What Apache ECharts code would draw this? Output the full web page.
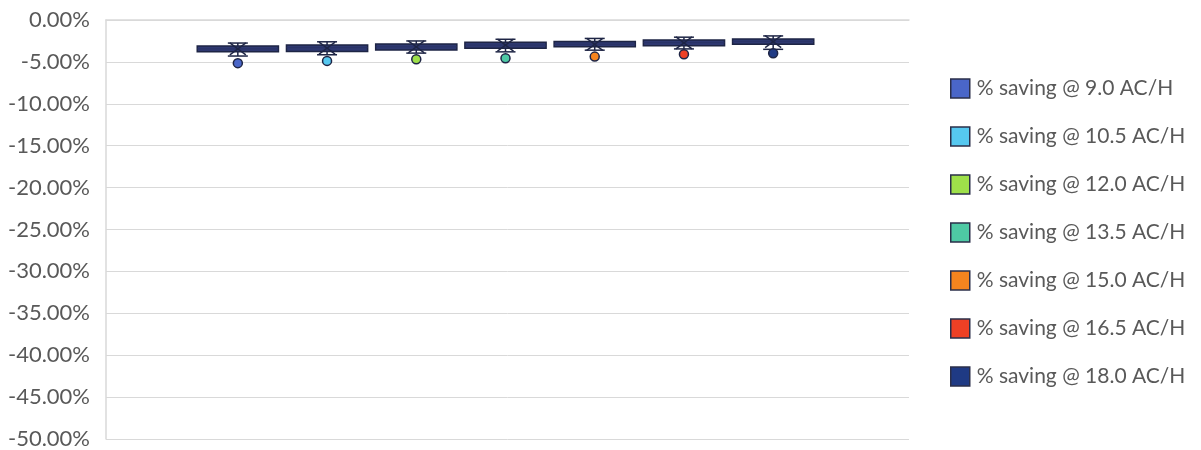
<!DOCTYPE html>
<html>
<head>
<meta charset="utf-8">
<script src="https://cdn.jsdelivr.net/npm/echarts@6/dist/echarts.min.js"></script>
<style>
html,body{margin:0;padding:0;background:#fff;}
#chart{width:1201px;height:450px;}
</style>
</head>
<body>
<div id="chart"></div>
<script>
// Series names and colours
const seriesNames = ['% saving @ 9.0 AC/H','% saving @ 10.5 AC/H','% saving @ 12.0 AC/H','% saving @ 13.5 AC/H','% saving @ 15.0 AC/H','% saving @ 16.5 AC/H','% saving @ 18.0 AC/H'];
const seriesColors = ['#4a66c8','#56c8f0','#9ee04a','#4ec9a4','#f5841f','#ee4025','#1f3a84'];
const categories = [''];
// box statistics in % (min, Q1, median, Q3, max, mean, outlier)
const whiskerMin = [-4.30,-4.15,-3.95,-3.80,-3.60,-3.45,-3.50];
const q1Values   = [-3.80,-3.75,-3.57,-3.37,-3.18,-3.06,-2.89];
const medians    = [-3.45,-3.30,-3.20,-3.00,-2.90,-2.70,-2.55];
const q3Values   = [-3.10,-2.98,-2.86,-2.65,-2.58,-2.38,-2.26];
const whiskerMax = [-2.75,-2.60,-2.50,-2.30,-2.20,-2.05,-1.90];
const means      = [-3.45,-3.35,-3.20,-3.00,-2.90,-2.72,-2.58];
const outliers   = [-5.15,-4.88,-4.68,-4.56,-4.37,-4.08,-3.96];
const yTicks = {min:-50, max:0, interval:5};

const dark = '#1e2545';
const chart = echarts.init(document.getElementById('chart'));

function makeRender(idx){
  return function(params, api){
    const cat = api.value(0);
    const band = api.size([1,0])[0];
    const slot = band/9;
    const cx = api.coord([cat,0])[0] + (idx-3)*slot - 2;
    const y = v => api.coord([cat,v])[1];
    const half = slot*0.455;
    const capHalf = 10;
    const vMin=api.value(1), vQ1=api.value(2), vMed=api.value(3), vQ3=api.value(4), vMax=api.value(5), vMean=api.value(6), vOut=api.value(7);
    const ls = {stroke:dark, lineWidth:1.5};
    const children = [
      {type:'line', shape:{x1:cx,y1:y(vMax),x2:cx,y2:y(vMin)}, style:ls},
      {type:'line', shape:{x1:cx-capHalf,y1:y(vMax),x2:cx+capHalf,y2:y(vMax)}, style:ls},
      {type:'line', shape:{x1:cx-capHalf,y1:y(vMin),x2:cx+capHalf,y2:y(vMin)}, style:ls},
      {type:'rect', shape:{x:cx-half,y:y(vQ3),width:2*half,height:y(vQ1)-y(vQ3)}, style:{fill:'#2e3870', stroke:dark, lineWidth:1.5}},
      {type:'line', shape:{x1:cx-half,y1:y(vMed),x2:cx+half,y2:y(vMed)}, style:{stroke:'#2a3366', lineWidth:1}},
      {type:'line', shape:{x1:cx-8,y1:y(vMean)-6,x2:cx+8,y2:y(vMean)+6}, style:ls},
      {type:'line', shape:{x1:cx-8,y1:y(vMean)+6,x2:cx+8,y2:y(vMean)-6}, style:ls},
      {type:'circle', shape:{cx:cx, cy:y(vOut), r:4.5}, style:{fill:seriesColors[idx], stroke:dark, lineWidth:1.5}}
    ];
    return {type:'group', children:children};
  };
}

const series = seriesNames.map((name,i)=>({
  type:'custom',
  name:name,
  renderItem: makeRender(i),
  itemStyle:{color:seriesColors[i], borderColor:dark},
  encode:{x:0, y:[1,2,3,4,5,6,7]},
  data:[[0, whiskerMin[i], q1Values[i], medians[i], q3Values[i], whiskerMax[i], means[i], outliers[i]]],
  silent:true
}));

chart.setOption({
  animation:false,
  backgroundColor:'#ffffff',
  grid:{left:106, right:292, top:20, bottom:10, containLabel:false},
  legend:{
    orient:'vertical',
    left:945, top:73,
    itemWidth:19, itemHeight:19, itemGap:27,
    icon:'rect',
    textStyle:{fontFamily:'Lato, "Open Sans", sans-serif', fontSize:21, color:'#595959', lineHeight:19, padding:[0,0,0,2]},
    data: seriesNames.map((n,i)=>({name:n, itemStyle:{color:seriesColors[i], borderColor:'#2b2f4a', borderWidth:1.5}}))
  },
  xAxis:{
    type:'category', data:categories,
    axisLine:{show:true, lineStyle:{color:'#d9d9d9', width:1.5}},
    axisTick:{show:false}, axisLabel:{show:false}, splitLine:{show:false}
  },
  yAxis:{
    type:'value', min:yTicks.min, max:yTicks.max, interval:yTicks.interval,
    axisLine:{show:true, lineStyle:{color:'#d9d9d9', width:1.5}},
    axisTick:{show:false},
    splitLine:{show:true, lineStyle:{color:'#d9d9d9', width:1}},
    axisLabel:{margin:16, fontFamily:'Lato, "Open Sans", sans-serif', fontSize:22, color:'#595959',
      formatter: v => v.toFixed(2)+'%'}
  },
  series:series
});
</script>
</body>
</html>
